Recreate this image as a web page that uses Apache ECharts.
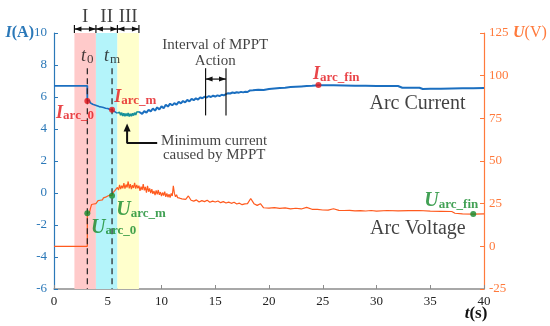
<!DOCTYPE html>
<html><head><meta charset="utf-8">
<script src="https://cdn.jsdelivr.net/npm/echarts@6/dist/echarts.min.js"></script>
<style>html,body{margin:0;padding:0;background:#fff}#c{width:550px;height:326px}</style>
</head><body><div id="c"></div>
<script>
// ---------------- data ----------------
const bandStart = [1.9, 3.9, 5.9];
const bandEnd   = [3.9, 5.9, 7.9];
const bandNames = ['I', 'II', 'III'];
const eventT = [3.1, 5.4];           // t0, tm
const mpptT  = [14.1, 16.0];         // interval of MPPT action

const curFlatT = [0, 3.1, 3.1];
const curFlatI = [6.7, 6.7, 5.78];
const curAT = [3.1,3.2,3.3,3.4,3.5,3.6,3.7,3.8,3.9,4.0,4.1,4.2,4.3,4.4,4.5,4.6,4.7,4.8,4.9,5.0,5.1,5.2,5.3,5.4,5.5,5.6,5.7,5.8,5.9];
const curAI = [5.78,5.70,5.76,5.62,5.68,5.55,5.63,5.50,5.58,5.45,5.52,5.40,5.48,5.38,5.46,5.34,5.42,5.30,5.38,5.28,5.35,5.22,5.30,5.20,5.16,5.10,5.12,5.02,5.00];
const curMinT = [5.9,6.0,6.1,6.2,6.3,6.4,6.5,6.6,6.7,6.8,6.9,7.0,7.1,7.2,7.3,7.4,7.5,7.6,7.7,7.8,7.9];
const curMinI = [5.00,4.88,5.05,4.86,5.02,4.82,4.98,4.80,4.96,4.82,5.00,4.78,4.95,4.80,4.98,4.84,5.02,4.88,5.06,4.94,5.08];
const curBT = [7.9,8.0,8.2,8.4,8.6,8.8,9.0,9.2,9.4,9.6,9.8,10.0,10.2,10.4,10.6,10.8,11.0,11.2,11.4,11.6,11.8,12.0,12.2,12.4,12.6,12.8,13.0,13.2,13.4,13.6,13.8,14.0,14.2,14.4,14.6,14.8,15.0,15.2,15.4,15.6,15.8,16.0,16.2,16.4,16.6,16.8,17.0,17.2,17.4,17.6,17.8,18.0,18.2,18.5,19.0,19.5,20.0,20.5,21.0,21.5,22.0,22.5,23.0,23.5,24.0,24.6,25,26,27,28,29,30,31,32,32.4,33,34,34.3,35,36,37,38,39,40];
const curBI = [5.08,5.05,4.95,5.12,5.02,5.20,5.10,5.28,5.15,5.35,5.22,5.42,5.30,5.52,5.40,5.58,5.48,5.62,5.52,5.70,5.60,5.75,5.66,5.82,5.72,5.88,5.80,5.92,5.84,5.98,5.92,6.02,5.97,6.06,6.00,6.08,6.03,6.10,6.06,6.14,6.10,6.18,6.24,6.22,6.28,6.25,6.30,6.27,6.32,6.29,6.33,6.31,6.40,6.42,6.46,6.44,6.50,6.53,6.56,6.58,6.62,6.64,6.66,6.68,6.70,6.74,6.74,6.73,6.72,6.71,6.70,6.69,6.69,6.69,6.58,6.58,6.58,6.50,6.51,6.52,6.53,6.54,6.55,6.56];

const voltT = [0,3.1,3.1,
  3.2,3.3,3.4,3.5,3.6,3.7,3.8,3.9,4.0,
  4.1,4.2,4.3,4.4,4.5,4.6,4.7,4.8,4.9,5.0,
  5.1,5.2,5.3,5.4,5.5,5.6,5.7,5.8,5.9,6.0,
  6.1,6.2,6.3,6.4,6.5,6.6,6.7,6.8,6.9,7.0,
  7.1,7.2,7.3,7.4,7.5,7.6,7.7,7.8,7.9,8.0,
  8.1,8.2,8.3,8.4,8.5,8.6,8.7,8.8,8.9,9.0,
  9.1,9.2,9.3,9.4,9.5,9.6,9.7,9.8,9.9,10.0,
  10.1,10.2,10.3,10.4,10.5,10.6,10.7,10.8,10.9,11.0,
  11.1,11.2,11.3,11.4,11.5,11.6,11.7,11.8,11.9,12.0,
  12.25,12.5,12.75,13.0,13.25,13.5,13.75,14.0,14.25,14.5,14.75,15.0,15.25,15.5,15.75,16.0,
  16.25,16.5,16.75,17.0,17.25,17.5,17.75,18.0,18.3,18.6,18.9,19.2,19.5,
  20.0,20.5,21.0,21.5,22.0,22.5,23.0,23.5,24.0,24.5,25.0,25.5,26.0,26.5,27.0,27.5,28.0,28.5,29.0,29.5,
  30,31,32,33,34,35,36,37,37.3,38,39,40];
const voltU = [0,0,19.4,
  20.0,19.8,22.5,24.5,24.0,24.8,24.2,25.0,24.6,
  26.8,27.5,27.0,28.0,27.2,28.4,27.6,28.8,28.0,29.5,
  28.6,30.0,29.2,29.7,31.5,30.8,33.0,32.0,34.5,33.0,
  36.0,33.5,35.5,34.0,37.0,33.8,36.2,34.5,38.0,34.0,
  36.5,33.5,35.8,34.2,37.2,33.8,36.0,34.0,35.5,32.5,
  35.0,33.0,36.5,32.8,34.8,31.5,35.5,32.0,34.0,31.2,
  33.5,30.8,32.5,30.0,32.8,30.5,33.0,30.2,31.8,29.5,
  31.5,29.8,32.0,29.0,31.0,28.8,30.5,28.5,31.0,29.5,
  35.5,31.0,29.0,30.2,28.5,29.5,28.2,29.0,27.8,28.6,
  27.5,29.5,27.0,26.5,27.2,26.0,26.8,26.2,27.0,25.8,26.5,26.0,26.6,25.6,26.2,25.4,
  25.9,25.2,25.8,24.8,25.3,24.4,24.9,25.0,28.0,25.0,24.0,25.0,22.6,
  22.4,22.7,22.2,22.5,22.0,22.3,21.9,22.8,21.7,21.6,21.3,21.2,22.0,21.1,21.0,21.1,20.8,20.9,20.7,21.0,
  20.6,21.0,20.8,20.9,21.0,20.6,20.5,20.4,19.4,19.0,18.9,19.0];

const iMarkT = [3.1, 5.4, 24.6];
const iMarkI = [5.75, 5.2, 6.75];
const uMarkT = [3.1, 5.4, 39.0];
const uMarkU = [19.4, 29.7, 18.9];

// ---------------- styling ----------------
const F = 'Liberation Serif';
const BLUE = '#1b6fc0', TEAL = '#17909a', ORANGE = '#ff5a1e';
const AXBLUE = '#2b78b8', AXORANGE = '#ff7a3c';
const RED = '#e3161c', GREEN = '#138a2a';

const zip = (a, b) => a.map((x, i) => [x, b[i]]);

const chart = echarts.init(document.getElementById('c'));

const richAll = {
  ib: {fontFamily: F, fontStyle: 'italic', fontWeight: 'bold', fontSize: 18, color: RED},
  is: {fontFamily: F, fontWeight: 'bold', fontSize: 13, color: RED, padding: [6, 0, 0, 0]},
  ub: {fontFamily: F, fontStyle: 'italic', fontWeight: 'bold', fontSize: 20, color: GREEN},
  us: {fontFamily: F, fontWeight: 'bold', fontSize: 13, color: GREEN, padding: [7, 0, 0, 0]},
  ti: {fontFamily: F, fontStyle: 'italic', fontSize: 18, color: '#111', padding: [0, 1, 0, 0]},
  ts: {fontFamily: F, fontSize: 13, color: '#111', padding: [6, 0, 0, 0]},
  tx: {fontFamily: F, fontSize: 15, color: '#111', lineHeight: 16, align: 'center'},
  ty: {fontFamily: F, fontSize: 15, color: '#111', lineHeight: 14, align: 'center'},
  big: {fontFamily: F, fontSize: 20, color: '#111'},
  rom: {fontFamily: F, fontSize: 19, color: '#111'}
};

function anno(t, y, text, pos) {
  return {value: [t, y], label: {show: true, formatter: text, position: pos, distance: 0, rich: richAll}};
}

const annotations = [
  anno(0.15, 5.0, '{ib|I}{is|arc_0}', 'right'),
  anno(5.55, 5.95, '{ib|I}{is|arc_m}', 'right'),
  anno(24.05, 7.4, '{ib|I}{is|arc_fin}', 'right'),
  anno(3.4, -2.15, '{ub|U}{us|arc_0}', 'right'),
  anno(5.75, -1.05, '{ub|U}{us|arc_m}', 'right'),
  anno(34.4, -0.5, '{ub|U}{us|arc_fin}', 'right'),
  anno(eventT[0], 8.55, '{ti|t}{ts|0}', 'inside'),
  anno(eventT[1], 8.55, '{ti|t}{ts|m}', 'inside'),
  anno(29.3, 5.6, '{big|Arc Current}', 'right'),
  anno(29.35, -2.25, '{big|Arc Voltage}', 'right'),
  anno(15.0, 8.75, '{tx|Interval of MPPT}\n{tx|Action}', 'inside'),
  anno(14.9, 2.78, '{ty|Minimum current}\n{ty|caused by MPPT}', 'inside'),
  anno((bandStart[0]+bandEnd[0])/2, 11.0, '{rom|' + bandNames[0] + '}', 'inside'),
  anno((bandStart[1]+bandEnd[1])/2, 11.0, '{rom|' + bandNames[1] + '}', 'inside'),
  anno((bandStart[2]+bandEnd[2])/2, 11.0, '{rom|' + bandNames[2] + '}', 'inside')
];

const AL = 'path://M0,5L10,0L10,10Z';  // pointing left
const AR = 'path://M10,5L0,0L0,10Z';   // pointing right
function dblArrow(t1, t2, y) {
  return {
    type: 'line', clip: false, silent: true, z: 6,
    lineStyle: {color: '#111', width: 1.2}, symbol: 'none', showSymbol: true,
    data: [
      {value: [t1, y], symbol: AL, symbolSize: [7, 5], symbolOffset: [3.5, 0], itemStyle: {color: '#111'}},
      {value: [t2, y], symbol: AR, symbolSize: [7, 5], symbolOffset: [-3.5, 0], itemStyle: {color: '#111'}}
    ]
  };
}
function vline(t, y1, y2, opts) {
  return Object.assign({
    type: 'line', clip: false, silent: true, symbol: 'none', z: 6,
    lineStyle: {color: '#111', width: 1.2},
    data: [[t, y1], [t, y2]]
  }, opts || {});
}

const series = [];
series.push({
  type: 'line', data: zip(curFlatT, curFlatI), symbol: 'none', lineStyle: {color: BLUE, width: 1.8}, z: 3,
  markArea: {silent: true, data: bandStart.map((s, i) => [
    {xAxis: s, itemStyle: {color: ['#ffcaca', '#b4f4fa', '#ffffcc'][i]}}, {xAxis: bandEnd[i]}])}
});
series.push({type: 'line', data: zip(curAT, curAI), symbol: 'none', lineStyle: {color: BLUE, width: 1.6}, z: 3});
series.push({type: 'line', data: zip(curMinT, curMinI), symbol: 'none', lineStyle: {color: TEAL, width: 1.6}, z: 3});
series.push({type: 'line', data: zip(curBT, curBI), symbol: 'none', lineStyle: {color: BLUE, width: 2}, z: 3});
series.push({type: 'line', yAxisIndex: 1, data: zip(voltT, voltU), symbol: 'none', lineStyle: {color: ORANGE, width: 1.2}, z: 3});
eventT.forEach(t => series.push(vline(t, 7.8, -6, {lineStyle: {color: '#222', width: 1.2, type: [6, 4]}, z: 4})));
[bandStart[0], bandEnd[0], bandEnd[1], bandEnd[2]].forEach(t => series.push(vline(t, 10.5, 10)));
bandStart.forEach((s, i) => series.push(dblArrow(s, bandEnd[i], 10.25)));
mpptT.forEach(t => series.push(vline(t, 7.8, 4.85)));
series.push(dblArrow(mpptT[0], mpptT[1], 7.12));
series.push({
  type: 'line', clip: false, silent: true, z: 6, symbol: 'none', showSymbol: true,
  lineStyle: {color: '#111', width: 2},
  data: [{value: [6.8, 4.1], symbol: 'triangle', symbolSize: [7, 8], itemStyle: {color: '#111'}}, [6.8, 3.13], [9.6, 3.13]]
});
series.push({type: 'scatter', data: zip(iMarkT, iMarkI), symbolSize: 6, itemStyle: {color: RED}, z: 7});
series.push({type: 'scatter', yAxisIndex: 1, data: zip(uMarkT, uMarkU), symbolSize: 6, itemStyle: {color: GREEN}, z: 7});
series.push({type: 'scatter', data: annotations, symbolSize: 1, clip: false, silent: true,
  itemStyle: {color: 'rgba(0,0,0,0)'}, z: 8});

chart.setOption({
  animation: false,
  backgroundColor: '#fff',
  grid: {left: 54, right: 66, top: 33, bottom: 37},
  xAxis: {
    type: 'value', min: 0, max: 40, interval: 5,
    name: '{i|t}{n|(s)}', nameLocation: 'end', nameGap: -8, nameMoveOverlap: false,
    nameTextStyle: {align: 'center', verticalAlign: 'top', padding: [16, 0, 0, 0],
      rich: {i: {fontFamily: F, fontStyle: 'italic', fontWeight: 'bold', fontSize: 17, color: '#111'},
             n: {fontFamily: F, fontWeight: 'bold', fontSize: 17, color: '#111'}}},
    axisLine: {onZero: false, lineStyle: {color: '#8c8c8c', width: 1.5}},
    axisTick: {inside: true, length: 4, lineStyle: {color: '#8c8c8c'}},
    axisLabel: {fontFamily: F, fontSize: 13, color: '#222', margin: 6},
    splitLine: {show: false}
  },
  yAxis: [{
    type: 'value', min: -6, max: 10, interval: 2,
    name: '{i|I}{n|(A)}', nameLocation: 'end', nameGap: 0, nameMoveOverlap: false,
    nameTextStyle: {align: 'right', verticalAlign: 'middle', padding: [0, 20, 0, 0],
      rich: {i: {fontFamily: F, fontStyle: 'italic', fontWeight: 'bold', fontSize: 16, color: AXBLUE},
             n: {fontFamily: F, fontWeight: 'bold', fontSize: 16, color: AXBLUE}}},
    axisLine: {show: true, onZero: false, lineStyle: {color: AXBLUE, width: 1.2}},
    axisTick: {show: true, inside: true, length: 4, lineStyle: {color: AXBLUE}},
    axisLabel: {fontFamily: F, fontSize: 13, color: AXBLUE, margin: 7},
    splitLine: {show: false}
  }, {
    type: 'value', min: -25, max: 125, interval: 25, position: 'right',
    name: '{i|U}{n|(V)}', nameLocation: 'end', nameGap: 0, nameMoveOverlap: false,
    nameTextStyle: {align: 'left', verticalAlign: 'middle', padding: [0, 0, 0, 29],
      rich: {i: {fontFamily: F, fontStyle: 'italic', fontWeight: 'bold', fontSize: 16, color: AXORANGE},
             n: {fontFamily: F, fontSize: 16, color: AXORANGE}}},
    axisLine: {show: true, onZero: false, lineStyle: {color: AXORANGE, width: 1.2}},
    axisTick: {show: true, inside: true, length: 4, lineStyle: {color: AXORANGE}},
    axisLabel: {fontFamily: F, fontSize: 13, color: AXORANGE, margin: 5},
    splitLine: {show: false}
  }],
  series: series
});
</script>
</body></html>
